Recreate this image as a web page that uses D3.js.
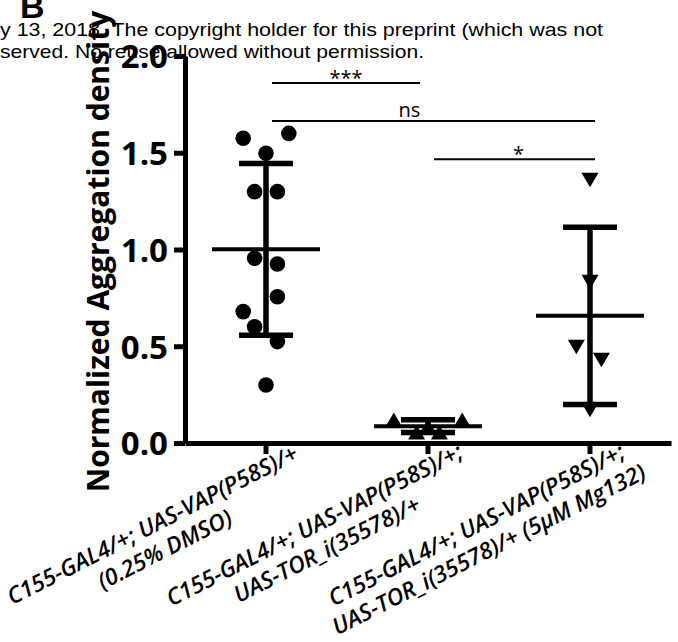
<!DOCTYPE html>
<html>
<head>
<meta charset="utf-8">
<script src="https://cdn.jsdelivr.net/npm/d3@7"></script>
<style>
body{margin:0;background:#fff;}
svg{display:block;}
</style>
</head>
<body>
<svg id="chart" width="678" height="642"></svg>
<script>
// categories and tick labels
const groups = ["dmso", "tor", "mg132"];
const groupLabels = [
	["C155-GAL4/+; UAS-VAP(P58S)/+", "(0.25% DMSO)"],
	["C155-GAL4/+; UAS-VAP(P58S)/+;", "UAS-TOR_i(35578)/+"],
	["C155-GAL4/+; UAS-VAP(P58S)/+;", "UAS-TOR_i(35578)/+ (5\u03bcM Mg132)"]
];
const yTicks = [0, 0.5, 1.0, 1.5, 2.0];

// values
const dmsoValues  = [1.575, 1.600, 1.497, 1.299, 1.299, 0.955, 0.925, 0.756, 0.679, 0.601, 0.524, 0.300];
const torValues   = [0.120, 0.120, 0.055, 0.055, 0.085];
const mg132Values = [1.359, 0.832, 0.496, 0.429, 0.170];

// scatter lanes (dodge slot of each point, same order as the values)
const dmsoLanes  = [-2, 2, 0, -1, 1, -1, 1, 1, -2, -1, 1, 0];
const torLanes   = [-3, 3, -1, 1, 0];
const mg132Lanes = [0, 0, -1.2, 1, 0];

// significance brackets
const sigFrom   = ["dmso", "dmso", "tor"];
const sigTo     = ["tor", "mg132", "mg132"];
const sigText   = ["***", "ns", "*"];
const sigLevel  = [1.86, 1.664, 1.466];

const headerLines = [
	"y 13, 2018. The copyright holder for this preprint (which was not",
	"served. No reuse allowed without permission."
];

const svg = d3.select("#chart");
const x = d3.scaleBand().domain(groups).range([185, 671]);
const y = d3.scaleLinear().domain([0, 2]).range([443, 56]);
const lane = d3.scaleLinear().domain([-1, 1]).range([-11.4, 11.4]);
const cx = g => x(g) + x.bandwidth() / 2;

// preprint header behind the panel
svg.append("text")
	.attr("x", 20).attr("y", 18)
	.style("font", "bold 34px 'Liberation Sans', Arial, sans-serif")
	.text("B");
const headerWidths = [603, 424];
svg.append("g").selectAll("text")
	.data(headerLines)
	.join("text")
	.attr("x", 0)
	.attr("y", (d, i) => 36 + i * 21.5)
	.attr("textLength", (d, i) => headerWidths[i])
	.attr("lengthAdjust", "spacingAndGlyphs")
	.style("font", "18.5px 'Liberation Sans', Arial, sans-serif")
	.text(d => d);

// axes
const gy = svg.append("g")
	.attr("transform", `translate(${x.range()[0]},0)`)
	.call(d3.axisLeft(y).tickValues(yTicks).tickFormat(d3.format(".1f")).tickSize(11).tickSizeOuter(0).tickPadding(6));
gy.select(".domain").attr("stroke-width", 5);
gy.selectAll(".tick line").attr("stroke-width", 5);
gy.selectAll(".tick text")
	.attr("dy", "0.36em")
	.style("font", "bold 33px 'Open Sans', sans-serif")
	.attr("fill", "#000");

const gx = svg.append("g")
	.attr("transform", `translate(0,${y(0)})`)
	.call(d3.axisBottom(x).tickSize(11).tickSizeOuter(0).tickFormat(""));
gx.select(".domain").attr("stroke-width", 5);
gx.selectAll(".tick line").attr("stroke-width", 5);

svg.append("text")
	.attr("transform", `translate(109,${(y(0) + y(2)) / 2 + 2}) rotate(-90)`)
	.attr("text-anchor", "middle")
	.style("font", "bold 30px 'Open Sans', sans-serif")
	.text("Normalized Aggregation density");

// category labels, two lines each, rotated
const labelG = svg.append("g").selectAll("g")
	.data(groups)
	.join("g")
	.attr("transform", d => `translate(${cx(d) - 110},532) rotate(-27)`);
labelG.selectAll("text")
	.data((d, i) => groupLabels[i])
	.join("text")
	.attr("x", 0)
	.attr("y", (d, i) => i * 27.5)
	.attr("text-anchor", "middle")
	.style("font", "italic 600 23px 'Open Sans', sans-serif")
	.text(d => d);

// points
const points = [
	...dmsoValues.map((v, i) => ({group: "dmso", value: v, lane: dmsoLanes[i]})),
	...torValues.map((v, i) => ({group: "tor", value: v, lane: torLanes[i]})),
	...mg132Values.map((v, i) => ({group: "mg132", value: v, lane: mg132Lanes[i]}))
];

function triangle(w, h, up){
	let p = d3.path();
	let s = up ? 1 : -1;
	p.moveTo(0, -s * h / 2);
	p.lineTo(w / 2, s * h / 2);
	p.lineTo(-w / 2, s * h / 2);
	p.closePath();
	return p.toString();
}

const gPts = svg.append("g");
gPts.selectAll("circle")
	.data(points.filter(d => d.group === "dmso"))
	.join("circle")
	.attr("cx", d => cx(d.group) + lane(d.lane))
	.attr("cy", d => y(d.value))
	.attr("r", 7.8)
	.attr("fill", "#000");
gPts.selectAll("path")
	.data(points.filter(d => d.group !== "dmso"))
	.join("path")
	.attr("transform", d => `translate(${cx(d.group) + lane(d.lane)},${y(d.value)})`)
	.attr("d", d => triangle(17, 14.5, d.group === "tor"))
	.attr("fill", "#000");

// mean and SD
const values = {dmso: dmsoValues, tor: torValues, mg132: mg132Values};
const stats = groups.map(g => ({group: g, mean: d3.mean(values[g]), sd: d3.deviation(values[g])}));

const gStats = svg.append("g").attr("stroke", "#000");
gStats.selectAll(".sd")
	.data(stats)
	.join("line")
	.attr("class", "sd")
	.attr("x1", d => cx(d.group)).attr("x2", d => cx(d.group))
	.attr("y1", d => y(d.mean + d.sd)).attr("y2", d => y(d.mean - d.sd))
	.attr("stroke-width", 5.5);
gStats.selectAll(".cap")
	.data(stats.flatMap(d => [{group: d.group, v: d.mean + d.sd}, {group: d.group, v: d.mean - d.sd}]))
	.join("line")
	.attr("class", "cap")
	.attr("x1", d => cx(d.group) - 27).attr("x2", d => cx(d.group) + 27)
	.attr("y1", d => y(d.v)).attr("y2", d => y(d.v))
	.attr("stroke-width", 5.5);
gStats.selectAll(".mean")
	.data(stats)
	.join("line")
	.attr("class", "mean")
	.attr("x1", d => cx(d.group) - 54).attr("x2", d => cx(d.group) + 54)
	.attr("y1", d => y(d.mean)).attr("y2", d => y(d.mean))
	.attr("stroke-width", 4);

// significance bars
const sig = sigText.map((t, i) => ({
	x1: cx(sigFrom[i]) + 6,
	x2: cx(sigTo[i]) + (sigTo[i] === "tor" ? -8 : 5),
	level: sigLevel[i],
	text: t
}));
const textShift = {"***": 0, "ns": -24, "*": 4};
const gSig = svg.append("g");
gSig.selectAll("line")
	.data(sig)
	.join("line")
	.attr("x1", d => d.x1).attr("x2", d => d.x2)
	.attr("y1", d => y(d.level)).attr("y2", d => y(d.level))
	.attr("stroke", "#000")
	.attr("stroke-width", 2);
gSig.selectAll("text")
	.data(sig)
	.join("text")
	.attr("x", d => (d.x1 + d.x2) / 2 + textShift[d.text])
	.attr("y", d => y(d.level) + (d.text === "ns" ? -4 : 2))
	.attr("text-anchor", "middle")
	.style("font", "20px 'Open Sans', sans-serif")
	.text(d => d.text);
</script>
</body>
</html>
